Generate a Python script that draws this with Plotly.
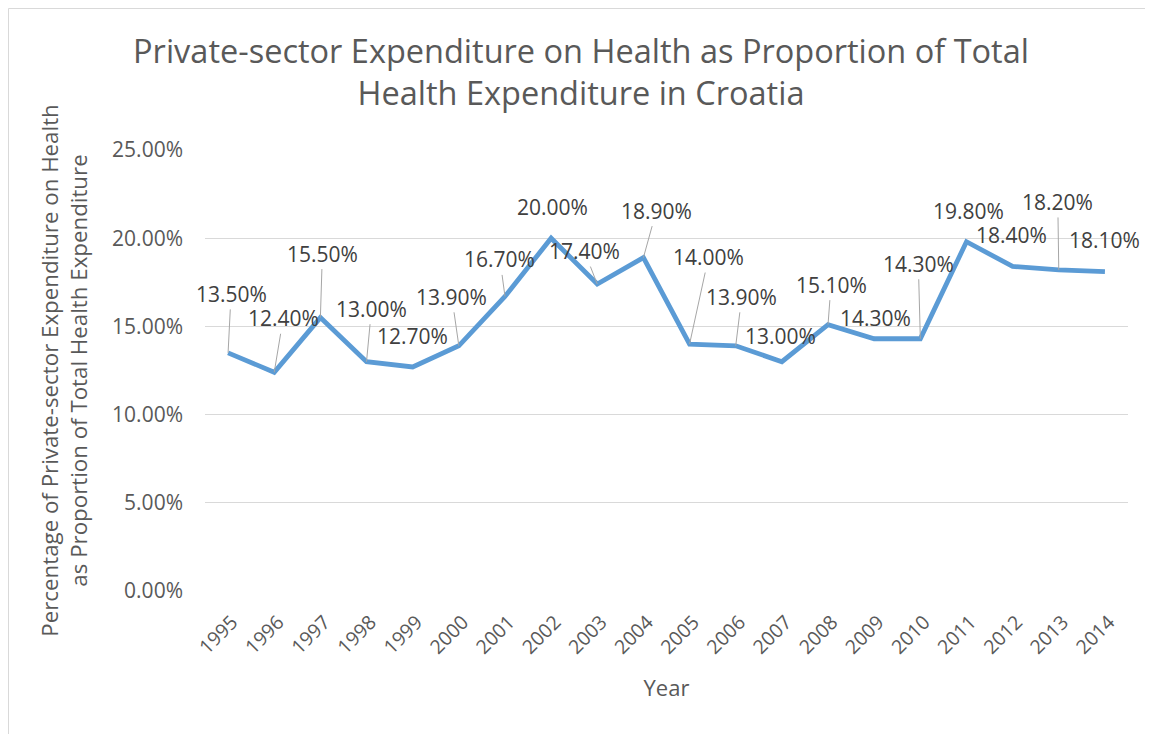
import plotly.graph_objects as go

years = [str(y) for y in range(1995, 2015)]
values = [13.5, 12.4, 15.5, 13.0, 12.7, 13.9, 16.7, 20.0, 17.4, 18.9,
          14.0, 13.9, 13.0, 15.1, 14.3, 14.3, 19.8, 18.4, 18.2, 18.1]
y_ticks = [0, 5, 10, 15, 20, 25]
y_tick_labels = ["0.00%", "5.00%", "10.00%", "15.00%", "20.00%", "25.00%"]

# label placement (pixel offsets from the point) and whether a leader line is drawn
label_dx = [3, 9, 2, 5, 0, -7, -5, 1, -13, 13, 19, 6, -1, 3, 1, -2, 2, -1, -1, 0]
label_dy = [-59, -54, -64, -53, -31, -49, -37, -31, -33, -47, -87, -49, -26, -40, -21, -75, -31, -31, -68, -32]
leader = [1, 1, 1, 1, 0, 1, 1, 0, 1, 1, 1, 1, 0, 1, 0, 1, 0, 0, 1, 0]

FONT = "Open Sans"
TXT = "#595959"
W, H = 1153, 734
ML, MR, MT, MB = 197, 33, 142, 151
PW, PH = W - ML - MR, H - MT - MB

fig = go.Figure()
fig.add_trace(go.Scatter(
    x=years, y=values, mode="lines",
    line=dict(color="#5B9BD5", width=4.8),
    hoverinfo="x+y", showlegend=False,
))

for i, (v, dx, dy, ld) in enumerate(zip(values, label_dx, label_dy, leader)):
    fig.add_annotation(
        x=i, y=v, text=f"{v:.2f}%", showarrow=True, ax=dx, ay=dy,
        arrowhead=0, arrowwidth=1, standoff=0, startstandoff=0,
        arrowcolor="#A6A6A6" if ld else "rgba(0,0,0,0)",
        font=dict(family=FONT, size=21, color="#404040"),
    )

fig.update_layout(
    width=W, height=H,
    margin=dict(l=ML, r=MR, t=MT, b=MB),
    paper_bgcolor="white", plot_bgcolor="white",
    title=dict(
        text="Private-sector Expenditure on Health as Proportion of Total<br>Health Expenditure in Croatia",
        x=573 / W, xanchor="center", y=1 - 54.5 / H, yanchor="middle",
        font=dict(family=FONT, size=32.5, color=TXT),
    ),
    xaxis=dict(
        type="category", range=[-0.5, len(years) - 0.5], tickangle=-45,
        showgrid=False, zeroline=False,
        showline=False, ticks="", ticklabelstandoff=15, ticklabelshift=4,
        tickfont=dict(family=FONT, size=19.5, color=TXT),
        title=dict(text="Year", font=dict(family=FONT, size=22, color=TXT), standoff=22),
    ),
    yaxis=dict(
        range=[0, 25], tickvals=y_ticks, ticktext=y_tick_labels,
        showgrid=True, gridcolor="#D9D9D9", gridwidth=1.3, zeroline=False,
        showline=False, ticks="", ticklabelstandoff=21,
        tickfont=dict(family=FONT, size=21, color=TXT),
        title=dict(text="Percentage of Private-sector Expenditure on Health<br>as Proportion of Total Health Expenditure",
                   font=dict(family=FONT, size=22.3, color=TXT), standoff=18),
    ),
)

# chart-area border (right and bottom edges fall outside the picture)
fig.add_shape(type="rect", xref="paper", yref="paper",
              x0=(0.5 - ML) / PW, x1=1.3, y0=-1.0, y1=1 + (MT - 0.5) / PH,
              line=dict(color="#D9D9D9", width=1), fillcolor="rgba(0,0,0,0)", layer="below")

fig.write_html("out.html")
